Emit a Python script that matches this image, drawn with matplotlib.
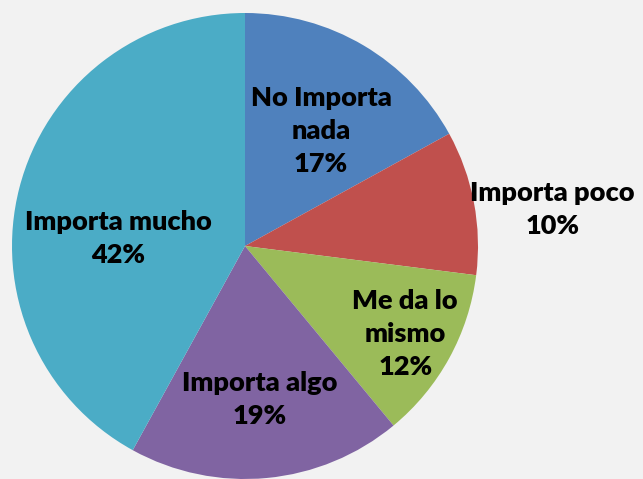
import matplotlib.pyplot as plt
import numpy as np

labels = ["No Importa\nnada", "Importa poco", "Me da lo\nmismo", "Importa algo", "Importa mucho"]
values = [17, 10, 12, 19, 42]
colors = ["#4F81BD", "#C0504D", "#9BBB59", "#8064A2", "#4BACC6"]

# label placement (fraction of radius, angle tweak in degrees)
dist = [0.59, 1.33, 0.785, 0.66, 0.545]
shift = [-3, -4, 0, 0, 11]

fig = plt.figure(figsize=(6.43, 4.79), dpi=100)
fig.patch.set_facecolor("#F2F2F2")
ax = fig.add_axes([0, 0, 1, 1])
ax.set_facecolor("#F2F2F2")

wedges, _ = ax.pie(values, colors=colors, startangle=90, counterclock=False,
                   radius=1, wedgeprops=dict(linewidth=0))

for w, lab, v, d, s in zip(wedges, labels, values, dist, shift):
    a = np.deg2rad((w.theta1 + w.theta2) / 2 + s)
    ax.text(d * np.cos(a), d * np.sin(a), lab + "\n%d%%" % v,
            ha="center", va="center", fontsize=19.5, fontweight="heavy",
            family="Lato", linespacing=1.45, color="black")

ax.set_xlim(-245 / 233, 398 / 233)
ax.set_ylim(-233 / 233, 246 / 233)
ax.set_aspect("auto")
ax.axis("off")

plt.savefig("out.png", dpi=100, facecolor=fig.get_facecolor())
